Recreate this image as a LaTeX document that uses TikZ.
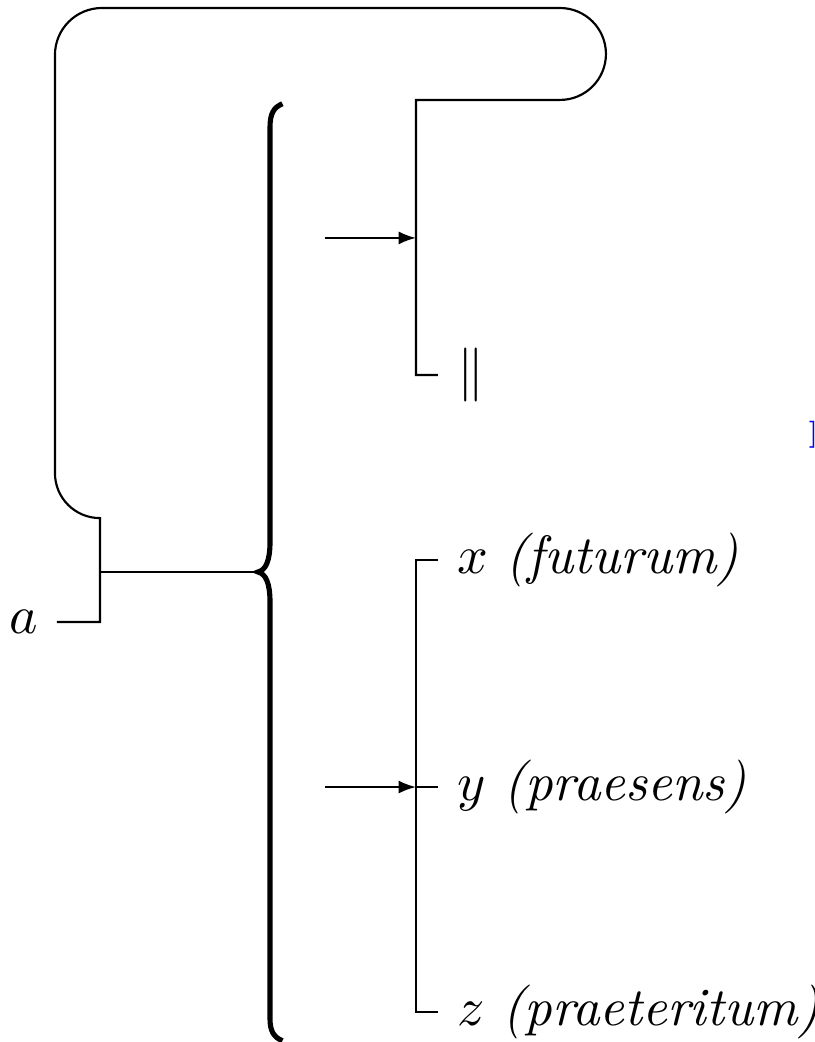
\documentclass[tikz,border=0pt]{standalone}
\usetikzlibrary{arrows.meta,positioning}

\begin{document}
\begin{tikzpicture}[
  feed/.style={-{Latex[length=3.2pt,width=2.4pt]}},
  tense/.style={right}
]
  \useasboundingbox (0,0) rectangle (5.309,6.788);

  % Brace
  \coordinate (bracetip) at (1.681,3.062);
  \draw[line width=0.95pt] (1.840,6.112) .. controls (1.785,6.090) and (1.759,6.050) .. (1.759,5.960)
    -- (1.759,3.260) .. controls (1.759,3.130) and (1.730,3.075) .. (bracetip)
    .. controls (1.730,3.049) and (1.759,2.994) .. (1.759,2.864)
    -- (1.759,0.150) .. controls (1.759,0.070) and (1.785,0.030) .. (1.840,0.008);

  % Input and feedback loop
  \node[left] (a) at (0.371,2.736) {$a$};
  \coordinate (fork) at (0.651,3.062);
  \node[tense] (par) at (2.853,4.345) {$\|$};
  \draw (a.east) -| (0.651,3.413) arc[start angle=-90, end angle=-180, radius=0.293]
    -- (0.358,6.430) arc[start angle=180, end angle=90, radius=0.306]
    -- (3.648,6.736) arc[start angle=90, end angle=-90, radius=0.2995]
    -- (2.710,6.137) |- (par.west);
  \draw (fork) -- (bracetip);

  % Tenses
  \node[tense] (fut) at (2.853,3.140) {$x$ \textit{(futurum)}};
  \node[tense] (pres) at (2.853,1.661) {$y$ \textit{(praesens)}};
  \node[tense] (praet) at (2.853,0.195) {$z$ \textit{(praeteritum)}};
  \draw (fut.west) -| (2.710,0.195) -- (praet.west);
  \draw (2.710,1.661) -- (pres.west);

  % Arrows
  \coordinate (upin) at (2.117,5.238);
  \coordinate (lowin) at (2.117,1.661);
  \draw[feed] (upin) -- (2.710,5.238);
  \draw[feed] (lowin) -- (2.710,1.661);

  % Link mark at the edge
  \node[font=\tiny, text=blue, anchor=west, inner sep=0pt] (mark) at (5.257,3.954) {]};
\end{tikzpicture}
\end{document}
